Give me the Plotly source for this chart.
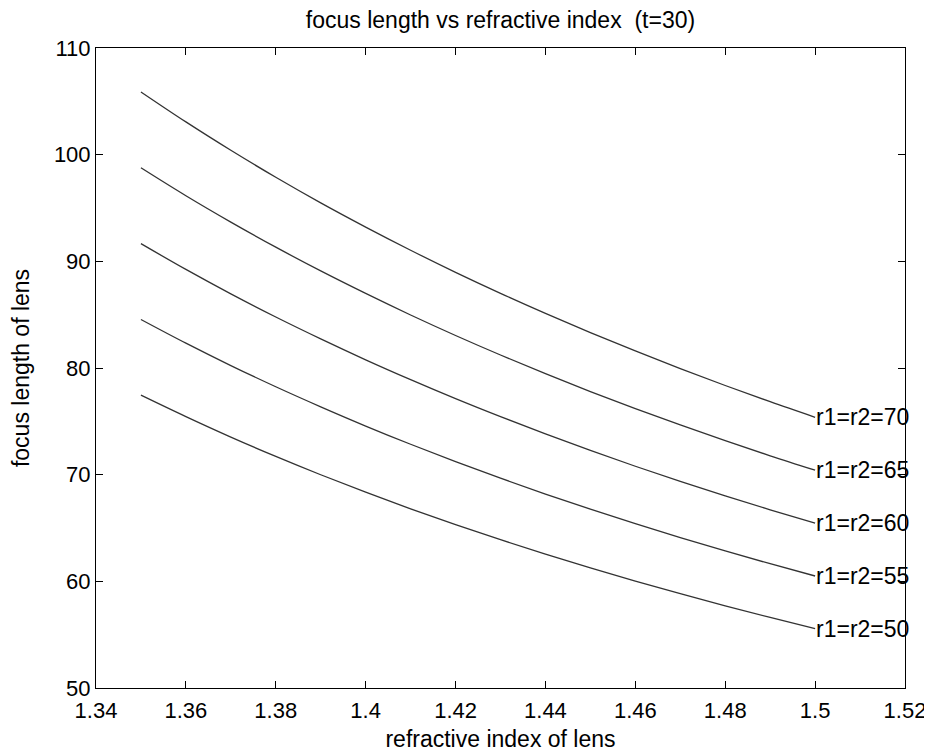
import plotly.graph_objects as go

n_index = [1.35, 1.36, 1.37, 1.38, 1.39, 1.40, 1.41, 1.42, 1.43, 1.44, 1.45, 1.46, 1.47, 1.48, 1.49, 1.50]
f_r70 = [105.88, 103.07, 100.41, 97.88, 95.48, 93.21, 91.04, 88.97, 87.00, 85.12, 83.32, 81.60, 79.94, 78.36, 76.84, 75.38]
f_r65 = [98.77, 96.15, 93.68, 91.33, 89.10, 86.99, 84.97, 83.05, 81.22, 79.47, 77.79, 76.19, 74.66, 73.19, 71.77, 70.42]
f_r60 = [91.66, 89.24, 86.95, 84.78, 82.73, 80.77, 78.91, 77.13, 75.44, 73.82, 72.27, 70.79, 69.37, 68.01, 66.71, 65.45]
f_r55 = [84.55, 82.33, 80.23, 78.24, 76.36, 74.56, 72.85, 71.22, 69.67, 68.18, 66.76, 65.40, 64.10, 62.85, 61.65, 60.50]
f_r50 = [77.45, 75.44, 73.52, 71.71, 69.99, 68.36, 66.80, 65.32, 63.90, 62.55, 61.26, 60.02, 58.84, 57.70, 56.61, 55.56]
series_labels = ["r1=r2=70", "r1=r2=65", "r1=r2=60", "r1=r2=55", "r1=r2=50"]
x_ticks = [1.34, 1.36, 1.38, 1.40, 1.42, 1.44, 1.46, 1.48, 1.50, 1.52]
x_tick_text = ["1.34", "1.36", "1.38", "1.4", "1.42", "1.44", "1.46", "1.48", "1.5", "1.52"]
y_ticks = [50, 60, 70, 80, 90, 100, 110]

FONT = "Liberation Sans, Arial, sans-serif"
fig = go.Figure()
for ys, lab in zip([f_r70, f_r65, f_r60, f_r55, f_r50], series_labels):
    fig.add_trace(go.Scatter(x=n_index, y=ys, mode="lines", line=dict(color="#333333", width=1.3, shape="spline"),
                             showlegend=False, hoverinfo="skip"))
    fig.add_annotation(x=n_index[-1], y=ys[-1], text=lab, showarrow=False, xanchor="left", yanchor="middle",
                       xshift=-1, yshift=0, font=dict(family=FONT, size=23, color="black"))

axis_common = dict(showgrid=False, zeroline=False, showline=True, linecolor="black", linewidth=1, mirror="ticks",
                   ticks="inside", ticklen=7, tickcolor="black", automargin=False,
                   tickfont=dict(family=FONT, size=22, color="black"))
fig.update_xaxes(range=[1.34, 1.52], tickvals=x_ticks, ticktext=x_tick_text, ticklabelstandoff=3,
                 title=dict(text="refractive index of lens", font=dict(family=FONT, size=23, color="black"), standoff=8),
                 **axis_common)
fig.update_yaxes(range=[50, 110], tickvals=y_ticks,
                 title=dict(text="focus length of lens", font=dict(family=FONT, size=23, color="black"), standoff=18),
                 **axis_common)
fig.update_layout(width=924, height=745, margin=dict(l=88, r=27, t=40, b=65),
                  plot_bgcolor="white", paper_bgcolor="white",
                  title=dict(text="focus length vs refractive index  (t=30)", x=0.5, xref="paper", xanchor="center",
                             y=0.984, yanchor="middle",
                             font=dict(family=FONT, size=23, color="black")))
fig.write_html("out.html")
